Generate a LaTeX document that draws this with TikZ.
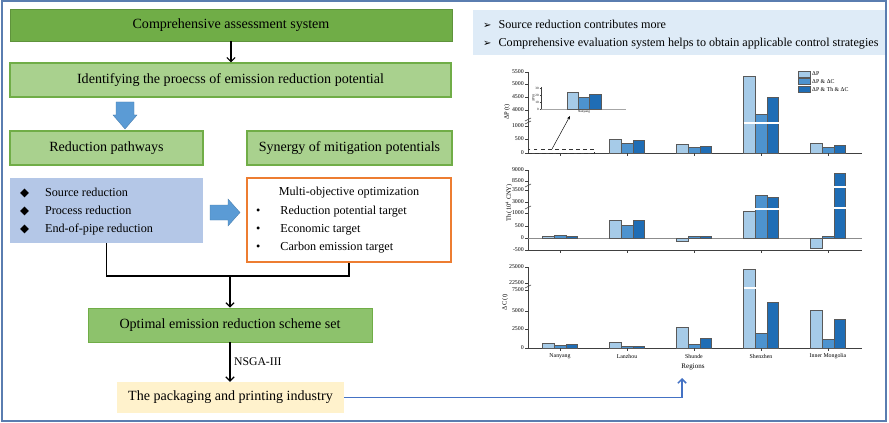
\documentclass[tikz,border=0pt]{standalone}
\usepackage{fontspec}
\setmainfont{Liberation Serif}
\newfontfamily\symfont{DejaVu Sans}
\usetikzlibrary{arrows.meta}

\definecolor{darkgreen}{HTML}{70AD47}
\definecolor{lightgreen}{HTML}{A9D18E}
\definecolor{midgreen}{HTML}{8DC26C}
\definecolor{paleblue}{HTML}{B4C7E7}
\definecolor{arrowblue}{HTML}{5B9BD5}
\definecolor{orangeline}{HTML}{ED7D31}
\definecolor{paleyellow}{HTML}{FFF2CC}
\definecolor{summaryblue}{HTML}{DEEBF7}
\definecolor{frameblue}{HTML}{5A7DB0}
\definecolor{linkblue}{HTML}{4472C4}
\definecolor{barlight}{HTML}{A6CBE8}
\definecolor{barmid}{HTML}{4D93CF}
\definecolor{bardark}{HTML}{1F6DB5}

\tikzset{
  darkbox/.style={fill=darkgreen, draw=darkgreen!85!black, line width=0.6pt, inner sep=0pt,
    font=\fontsize{12}{14}\selectfont},
  greenbox/.style={fill=lightgreen, draw=darkgreen, line width=1pt, inner sep=0pt,
    font=\fontsize{12}{14}\selectfont},
  optbox/.style={fill=midgreen, draw=darkgreen, line width=0.6pt, inner sep=0pt,
    font=\fontsize{12}{14}\selectfont},
  listbox/.style={fill=paleblue, inner sep=0pt},
  targetbox/.style={fill=white, draw=orangeline, line width=1.3pt, inner sep=0pt},
  industrybox/.style={fill=paleyellow, inner sep=0pt, font=\fontsize{12}{14}\selectfont},
  summarybox/.style={fill=summaryblue, inner sep=0pt},
  itemtext/.style={inner sep=0pt, font=\fontsize{10.4}{15.3}\selectfont},
  blockarrow/.style={fill=arrowblue, draw=arrowblue!80!black, line width=0.3pt},
  flowline/.style={line width=1pt},
  flowarrow/.style={line width=1pt, -{Straight Barb[length=3.5pt,width=7pt]}},
  linkarrow/.style={draw=linkblue, line width=1.3pt, -{Straight Barb[length=3.5pt,width=7pt]}},
  axisline/.style={draw=black!75, line width=0.5pt},
  zeroline/.style={draw=black!45, line width=0.5pt},
  breakline/.style={draw=white, line width=1.6pt},
  barA/.style={fill=barlight, draw=black!65, line width=0.5pt},
  barB/.style={fill=barmid, draw=black!65, line width=0.5pt},
  barC/.style={fill=bardark, draw=black!65, line width=0.5pt},
  ticklabel/.style={anchor=east, inner sep=0pt, font=\fontsize{5}{6}\selectfont},
  tinylabel/.style={inner sep=0pt, font=\fontsize{2.8}{3.2}\selectfont},
  legendtext/.style={anchor=west, inner sep=0pt, font=\fontsize{5}{6}\selectfont},
  axistitle/.style={inner sep=0pt, rotate=90, font=\fontsize{5.5}{6.5}\selectfont},
  regionlabel/.style={inner sep=0pt, font=\fontsize{5}{6}\selectfont}
}

\begin{document}
\begin{tikzpicture}[x=0.03cm, y=-0.03cm]
  \useasboundingbox (0,0) rectangle (889,423);
  \draw[frameblue, line width=1.5pt] (2,1) rectangle (886,421);

  % flow chart
  \node[darkbox, minimum width=13.26cm, minimum height=0.96cm] (system) at (231,25)
    {Comprehensive assessment system};
  \node[greenbox, minimum width=13.23cm, minimum height=1.02cm] (identify) at (230.5,80)
    {Identifying the proecss of emission reduction potential};
  \node[greenbox, minimum width=5.79cm, minimum height=1.02cm] (pathways) at (106.5,148)
    {Reduction pathways};
  \node[greenbox, minimum width=6.15cm, minimum height=1.02cm] (synergy) at (349.5,148)
    {Synergy of mitigation potentials};
  \node[listbox, minimum width=5.79cm, minimum height=1.95cm] (measures) at (106.5,210.5) {};
  \node[itemtext, anchor=west] (measurelist) at (20,211)
    {\begin{tabular}{@{}l@{\hspace{13.5pt}}l@{}}
       {\symfont\fontsize{10}{15.3}\selectfont ◆} & Source reduction\\
       {\symfont\fontsize{10}{15.3}\selectfont ◆} & Process reduction\\
       {\symfont\fontsize{10}{15.3}\selectfont ◆} & End-of-pipe reduction
     \end{tabular}};
  \node[targetbox, minimum width=6.12cm, minimum height=2.52cm] (targets) at (349,220) {};
  \node[itemtext] (moo) at (349,193) {Multi-objective optimization};
  \node[itemtext, anchor=west] (targetlist) at (256,229)
    {\begin{tabular}{@{}l@{\hspace{17pt}}l@{}}
       • & Reduction potential target\\
       • & Economic target\\
       • & Carbon emission target
     \end{tabular}};
  \node[optbox, minimum width=8.52cm, minimum height=1.02cm] (scheme) at (230,325)
    {Optimal emission reduction scheme set};
  \node[industrybox, minimum width=6.81cm, minimum height=0.93cm] (industry) at (230.5,397.5)
    {The packaging and printing industry};
  \coordinate (merge) at (230,276);
  \coordinate (chartin) at (682,378);

  % block arrows
  \filldraw[blockarrow] (116,102) -- (134,102) -- (134,115) -- (137,115) -- (125,129)
    -- (113,115) -- (116,115) -- cycle;
  \filldraw[blockarrow] (210,205) -- (228,205) -- (228,199) -- (240,212.5) -- (228,226)
    -- (228,220) -- (210,220) -- cycle;

  \draw[flowarrow] (system.south -| 231,0) -- (identify.north -| 231,0);
  \draw[flowline] (measures.south) |- (merge) -| (targets.south);
  \draw[flowarrow] (merge) -- (scheme.north -| merge);
  \draw[flowarrow] (scheme.south -| merge) -- node[right, xshift=3pt, inner sep=0pt,
    font=\fontsize{10}{12}\selectfont] (nsga) {NSGA-III} (industry.north -| merge);
  \draw[linkarrow] (industry.east) -| (chartin);

  % summary
  \node[summarybox, minimum width=12.36cm, minimum height=1.35cm] (summary) at (679,32.5) {};
  \node[itemtext, anchor=west, font=\fontsize{10.35}{15.3}\selectfont] (findings) at (483,34)
    {\begin{tabular}{@{}l@{\hspace{6pt}}l@{}}
       {\symfont\fontsize{8.5}{15.3}\selectfont ➢} & Source reduction contributes more\\
       {\symfont\fontsize{8.5}{15.3}\selectfont ➢} & Comprehensive evaluation system helps to obtain applicable control strategies
     \end{tabular}};

  % panel dP
  \draw[axisline] (528,72) -- (528,153) -- (862,153);
  \foreach \ty/\tv [count=\i] in {72/5500,84/5000,97/4500,110/4000,126/1000,139/500,153/0}
  {
    \draw[axisline] (525,\ty) -- (528,\ty);
    \node[ticklabel] (pa\i) at (524,\ty) {\tv};
  }
  \draw[axisline] (525,121) -- (531,118) (525,124) -- (531,121);
  \foreach \cx/\ta/\tb/\tc in {627/139/143/140, 694/144/147/146, 761/76/114/97, 828/143/147/145}
  {
    \draw[barA] (\cx-17.5,153) rectangle (\cx-5.8,\ta);
    \draw[barB] (\cx-5.8,153) rectangle (\cx+5.8,\tb);
    \draw[barC] (\cx+5.8,153) rectangle (\cx+17.5,\tc);
  }
  \draw[breakline] (743.5,123) -- (778.5,123);
  \foreach \cx in {560,627,694,761,828}
    \draw[axisline] (\cx,153) -- (\cx,156);
  \node[axistitle] (ptitle) at (507,112) {ΔP (t)};

  % inset
  \node[draw=black!80, dashed, line width=0.6pt, minimum width=1.98cm, minimum height=0.12cm,
    inner sep=0pt] (zoombox) at (561,151) {};
  \coordinate (zoomfrom) at (552,149);
  \coordinate (insetpt) at (570,116);
  \draw[line width=0.4pt, -{Stealth[length=3pt,width=2.5pt]}] (zoomfrom) -- (insetpt);
  \draw[axisline] (541,87) -- (541,109);
  \draw[draw=black!35, line width=0.6pt] (541,109) -- (626,109);
  \foreach \ty/\tv [count=\i] in {88/30,95/20,102/10,109/0}
  {
    \draw[axisline, line width=0.3pt] (539.5,\ty) -- (541,\ty);
    \node[tinylabel, anchor=east] (ia\i) at (539,\ty) {\tv};
  }
  \draw[barA] (567,109) rectangle (578.5,92);
  \draw[barB] (578.5,109) rectangle (589.5,97);
  \draw[barC] (589.5,109) rectangle (601,94);
  \node[tinylabel, rotate=90] (ititle) at (533.5,98) {ΔP (t)};
  \node[tinylabel] (iname) at (584,112) {Nanyang};

  % legend
  \foreach \ly/\st/\lt [count=\i] in {74/barA/ΔP, 81.5/barB/ΔP \& ΔC, 89/barC/ΔP \& Th \& ΔC}
  {
    \draw[\st] (798,\ly-3) rectangle (810,\ly+3);
    \node[legendtext] (lg\i) at (812,\ly) {\lt};
  }

  % panel Th
  \draw[axisline] (528,170) -- (528,250) -- (862,250);
  \draw[zeroline] (528,238) -- (862,238);
  \foreach \ty/\tv [count=\i] in {170/9000,181/8500,190/3500,202/3000,213/1000,226/500,238/0,250/-500}
  {
    \draw[axisline] (525,\ty) -- (528,\ty);
    \node[ticklabel] (pb\i) at (524,\ty) {\tv};
  }
  \draw[axisline] (525,187) -- (531,184) (525,209) -- (531,206);
  \foreach \cx/\ta/\tb/\tc in {560/236/235/236.5, 627/220/225/220, 694/241/236/236.5,
                              761/211/195/197, 828/248/236/173}
  {
    \draw[barA] (\cx-17.5,238) rectangle (\cx-5.8,\ta);
    \draw[barB] (\cx-5.8,238) rectangle (\cx+5.8,\tb);
    \draw[barC] (\cx+5.8,238) rectangle (\cx+17.5,\tc);
  }
  \draw[breakline] (755,209) -- (778.5,209);
  \draw[breakline] (833,187) -- (845.5,187) (833,208) -- (845.5,208);
  \foreach \cx in {560,627,694,761,828}
    \draw[axisline] (\cx,250) -- (\cx,253);
  \node[axistitle] (ttitle) at (509,203) {Th (10\textsuperscript{4} CNY)};

  % panel dC
  \draw[axisline] (528,267) -- (528,348) -- (862,348);
  \foreach \ty/\tv [count=\i] in {267/25000,283/22500,290/7500,311/5000,329/2500,348/0}
  {
    \draw[axisline] (525,\ty) -- (528,\ty);
    \node[ticklabel] (pc\i) at (524,\ty) {\tv};
  }
  \draw[axisline] (525,288) -- (531,285);
  \foreach \cx/\ta/\tb/\tc in {560/343/345.5/344.5, 627/342/346.5/346, 694/327/344/338,
                              761/269/333/302, 828/310/339/319}
  {
    \draw[barA] (\cx-17.5,348) rectangle (\cx-5.8,\ta);
    \draw[barB] (\cx-5.8,348) rectangle (\cx+5.8,\tb);
    \draw[barC] (\cx+5.8,348) rectangle (\cx+17.5,\tc);
  }
  \draw[breakline] (743.5,288) -- (756.5,288);
  \foreach \cx/\rn [count=\i] in {560/Nanyang,627/Lanzhou,694/Shunde,761/Shenzhen,828/Inner Mongolia}
  {
    \draw[axisline] (\cx,348) -- (\cx,351);
    \node[regionlabel] (rg\i) at (\cx,356) {\rn};
  }
  \node[axistitle] (ctitle) at (505,302) {ΔC (t)};
  \node[regionlabel, font=\fontsize{6}{7}\selectfont] (regions) at (693,367) {Regions};
\end{tikzpicture}
\end{document}
